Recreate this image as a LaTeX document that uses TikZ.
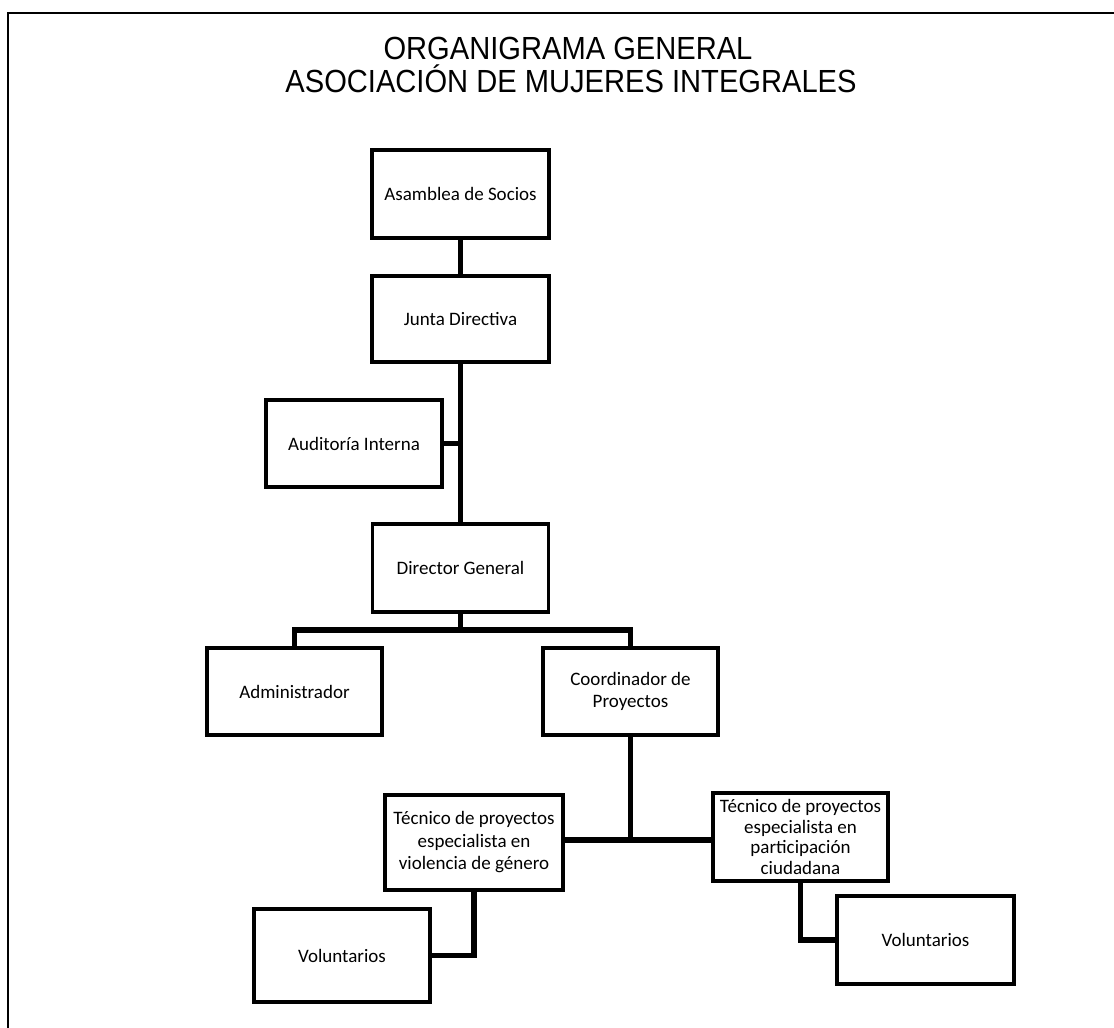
\documentclass[tikz,border=0pt]{standalone}
\usepackage{fontspec}
\setmainfont{Carlito}
\newfontfamily\titlefont{Liberation Sans}
\begin{document}
\begin{tikzpicture}[x=1pt,y=-1pt,
  orgbox/.style={draw=black, line width=3.2pt, rectangle, align=center, inner sep=2pt,
    font=\fontsize{19}{22.5}\selectfont},
  link/.style={draw=black, line width=5.5pt, line join=miter, line cap=rect},
  titletext/.style={anchor=base, xscale=0.91, font=\titlefont\fontsize{32}{36}\selectfont, inner sep=0pt}]
\useasboundingbox (0,0) rectangle (1114,1028);
\fill[white] (0,0) rectangle (1114,1028);
% frame
\draw[line width=2.5pt] (1114,13) -- (8,13) -- (8,1028);
% title
\node[titletext] (t1) at (568,59) {ORGANIGRAMA GENERAL};
\node[titletext] (t2) at (571,92) {ASOCIACIÓN DE MUJERES INTEGRALES};
% boxes
\node[orgbox, minimum width=177pt, minimum height=88pt] (asam) at (460.5,194) {Asamblea de Socios};
\node[orgbox, minimum width=177pt, minimum height=86pt] (junta) at (460.5,319) {Junta Directiva};
\node[orgbox, minimum width=176pt, minimum height=87pt] (audit) at (354,443.5) {Auditoría Interna};
\node[orgbox, minimum width=176pt, minimum height=88pt] (dir) at (460.5,568) {Director General};
\node[orgbox, minimum width=175pt, minimum height=87pt] (admin) at (294.5,691.5) {Administrador};
\node[orgbox, minimum width=175pt, minimum height=87pt] (coord) at (630.5,691.5) {Coordinador de\\Proyectos};
\node[orgbox, minimum width=178pt, minimum height=95pt] (tec1) at (474,842.5) {Técnico de proyectos\\especialista en\\violencia de género};
\node[orgbox, minimum width=175pt, minimum height=88pt, inner sep=0pt, font=\fontsize{19}{20.5}\selectfont] (tec2) at (800.5,837) {Técnico de proyectos\\especialista en\\participación\\ciudadana};
\node[orgbox, minimum width=176pt, minimum height=93pt] (vol1) at (342,955.5) {Voluntarios};
\node[orgbox, minimum width=177pt, minimum height=88pt] (vol2) at (925.5,940) {Voluntarios};
% bus coordinates
\coordinate (b1) at (460.5,630);
\coordinate (b2) at (630.5,840);
% connectors
\draw[link] (asam.south) -- (junta.north);
\draw[link] (junta.south) -- (dir.north);
\draw[link] (audit.east) -- (audit.east -| dir.north);
\draw[link] (dir.south) -- (b1);
\draw[link] (admin.north) |- (b1) -| (coord.north);
\draw[link] (coord.south) -- (b2);
\draw[link] (tec1.east |- b2) -- (tec2.west |- b2);
\draw[link] (tec1.south) |- (vol1.east);
\draw[link] (tec2.south) |- (vol2.west);
\end{tikzpicture}
\end{document}
